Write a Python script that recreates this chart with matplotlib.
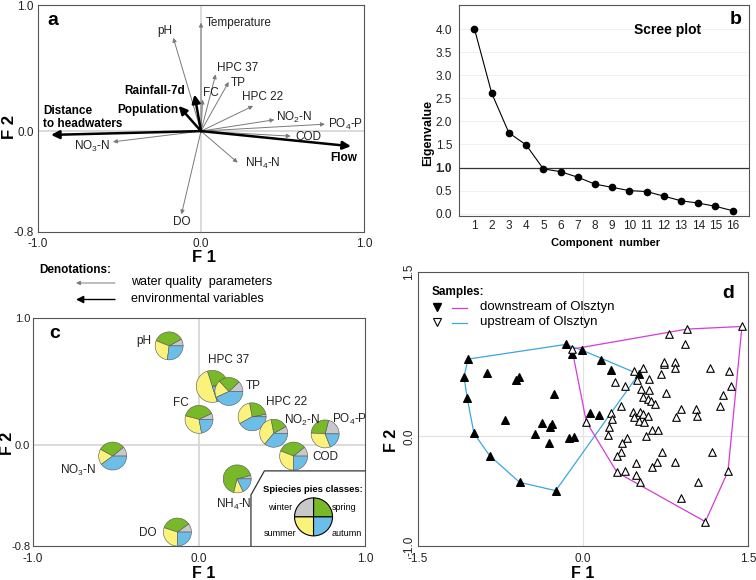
import numpy as np
import matplotlib
matplotlib.use("Agg")
import matplotlib.pyplot as plt
from matplotlib.patches import Wedge, FancyArrowPatch
from matplotlib.transforms import ScaledTranslation

plt.rcParams['font.family'] = ['Liberation Sans', 'DejaVu Sans']
plt.rcParams['mathtext.default'] = 'regular'

# DATA

# panel a - PCA loadings (water quality parameters, thin arrows)
wq_names = ['Temperature', 'pH', 'HPC 37', 'TP', 'FC', 'HPC 22', r'NO$_2$-N', r'PO$_4$-P',
            'COD', r'NO$_3$-N', r'NH$_4$-N', 'DO']
wq_f1 = [0.0, -0.17, 0.09, 0.17, 0.01, 0.32, 0.45, 0.76, 0.55, -0.54, 0.225, -0.12]
wq_f2 = [0.86, 0.74, 0.45, 0.39, 0.25, 0.20, 0.09, 0.055, -0.04, -0.085, -0.25, -0.66]

# environmental variables, thick arrows
env_names = ['Rainfall-7d', 'Population', 'Distance\nto headwaters', 'Flow']
env_f1 = [-0.04, -0.137, -0.92, 0.92]
env_f2 = [0.29, 0.20, -0.03, -0.12]

# panel b - scree plot
eigenvalues = [4.0, 2.61, 1.75, 1.49, 0.97, 0.91, 0.79, 0.64, 0.57, 0.50, 0.48, 0.38, 0.28, 0.23, 0.16, 0.065]

# panel c - seasonal pies
pie_names = ['pH', 'HPC 37', 'TP', 'FC', 'HPC 22', r'NO$_2$-N', r'PO$_4$-P', 'COD',
             r'NO$_3$-N', r'NH$_4$-N', 'DO']
pie_f1 = [-0.18, 0.08, 0.18, 0.0, 0.32, 0.45, 0.76, 0.57, -0.52, 0.23, -0.13]
pie_f2 = [0.78, 0.46, 0.42, 0.20, 0.22, 0.09, 0.085, -0.09, -0.09, -0.27, -0.69]
winter = [0.08, 0.05, 0.12, 0.07, 0.03, 0.08, 0.21, 0.11, 0.11, 0.04, 0.10]
spring = [0.36, 0.25, 0.25, 0.39, 0.25, 0.20, 0.28, 0.33, 0.31, 0.67, 0.35]
summer = [0.29, 0.50, 0.20, 0.32, 0.30, 0.36, 0.32, 0.31, 0.18, 0.11, 0.30]
autumn = [0.27, 0.20, 0.43, 0.22, 0.42, 0.36, 0.19, 0.25, 0.40, 0.18, 0.25]

# panel d - sample scores
down_f1 = [-1.045, -1.082, -1.052, -0.991, -0.848, -0.576, -0.248, -0.158, -0.009, -0.100,
           0.167, 0.258, 0.506, -0.873, -0.606, -0.582, -0.267, -0.709, -0.376, -0.285,
           -0.303, -0.436, -0.312, -0.130, -0.085, 0.067, 0.142]
down_f2 = [0.705, 0.544, 0.347, 0.027, -0.176, -0.419, -0.495, 0.839, 0.787, 0.751,
           0.699, 0.602, 0.568, 0.574, 0.517, 0.544, 0.386, 0.149, 0.125, 0.112,
           0.088, 0.021, -0.061, -0.015, -0.009, 0.210, 0.195]
up_f1 = [1.445, 0.945, 0.779, 0.930, -0.100, 0.733, 0.839, 0.833, 1.158, 1.327,
         0.706, 1.342, 0.758, 1.273, 1.242, 0.461, 0.545, 0.491, 0.600, 0.288,
         0.379, 0.530, 0.600, 0.545, 0.591, 0.621, 0.652, 0.348, 0.888, 1.030,
         0.848, 1.039, 0.252, 0.455, 0.461, 0.521, 0.545, 0.594, 0.030, 0.264,
         0.509, 0.555, 0.236, 0.630, 0.682, 0.224, 0.400, 0.576, 0.355, 0.348,
         0.718, 1.173, 0.309, 0.479, 0.676, 0.833, 0.627, 0.309, 0.385, 1.318,
         0.479, 0.515, 1.045, 0.894, 1.112, 0.733]
up_f2 = [1.003, 0.979, 0.933, 0.842, 0.796, 0.660, 0.681, 0.620, 0.623, 0.593,
         0.568, 0.462, 0.395, 0.377, 0.274, 0.599, 0.620, 0.517, 0.523, 0.498,
         0.462, 0.432, 0.426, 0.356, 0.340, 0.319, 0.295, 0.280, 0.249, 0.249,
         0.179, 0.182, 0.213, 0.225, 0.173, 0.219, 0.207, 0.182, 0.134, 0.158,
         0.137, 0.128, 0.082, 0.058, 0.058, 0.012, -0.015, 0.000, -0.061, -0.146,
         -0.146, -0.140, -0.176, -0.243, -0.237, -0.237, -0.283, -0.328, -0.319, -0.319,
         -0.353, -0.419, -0.413, -0.565, -0.778, 0.675]

# LAYOUT / STYLE
wq_label_pos = [(0.03, 0.86, 'left'), (-0.22, 0.79, 'center'), (0.10, 0.50, 'left'),
                (0.18, 0.38, 'left'), (0.01, 0.30, 'left'), (0.25, 0.27, 'left'),
                (0.46, 0.11, 'left'), (0.78, 0.05, 'left'), (0.58, -0.045, 'left'),
                (-0.67, -0.12, 'center'), (0.27, -0.26, 'left'), (-0.12, -0.72, 'center')]
env_label_pos = [(-0.10, 0.32, 'right'), (-0.14, 0.17, 'right'), (-0.97, 0.11, 'left'),
                 (0.96, -0.21, 'right')]
pie_label_pos = [(-0.33, 0.82), (0.18, 0.67), (0.33, 0.46), (-0.11, 0.33), (0.53, 0.34),
                 (0.62, 0.19), (0.91, 0.20), (0.76, -0.10), (-0.73, -0.20), (0.21, -0.47),
                 (-0.31, -0.70)]
pie_radius = [0.14, 0.16, 0.14, 0.14, 0.14, 0.14, 0.14, 0.14, 0.14, 0.14, 0.14]  # inches
key_box = [(0.313, -0.8), (0.313, -0.397), (0.394, -0.207), (1.0, -0.207)]

c_winter, c_spring, c_summer, c_autumn = '#c8c8c8', '#79b829', '#fbf27b', '#6dbde9'
spine_col = '#555555'
W, H = 756, 580

fig = plt.figure(figsize=(7.56, 5.80), dpi=100)


def box(l, t, r, b):
    return [l / W, 1 - b / H, (r - l) / W, (b - t) / H]


def style_box(ax):
    for s in ax.spines.values():
        s.set_color(spine_col)
        s.set_linewidth(0.8)
    ax.tick_params(length=0, labelsize=8.5, colors='#222222')


def convex_hull(xs, ys):
    pts = sorted(set(zip(xs, ys)))

    def cross(o, a, b):
        return (a[0] - o[0]) * (b[1] - o[1]) - (a[1] - o[1]) * (b[0] - o[0])

    lower, upper = [], []
    for p in pts:
        while len(lower) >= 2 and cross(lower[-2], lower[-1], p) <= 0:
            lower.pop()
        lower.append(p)
    for p in reversed(pts):
        while len(upper) >= 2 and cross(upper[-2], upper[-1], p) <= 0:
            upper.pop()
        upper.append(p)
    hull = lower[:-1] + upper[:-1]
    hull.append(hull[0])
    return [p[0] for p in hull], [p[1] for p in hull]


def draw_pie(ax, x, y, fracs, colors, r, ec='#555555', lw=0.4, z=3):
    trans = fig.dpi_scale_trans + ScaledTranslation(x, y, ax.transData)
    t = 0.0
    total = sum(fracs)
    for f, c in zip(fracs, colors):
        t2 = t + 360.0 * f / total
        ax.add_patch(Wedge((0, 0), r, t, t2, transform=trans, fc=c, ec=ec, lw=lw, zorder=z))
        t = t2


# PANEL A
ax_a = fig.add_axes(box(38, 5, 364, 232))
style_box(ax_a)
ax_a.set_xlim(-1, 1)
ax_a.set_ylim(-0.8, 1.0)
ax_a.axhline(0, color='#d4d4d4', lw=1.2, zorder=0)
ax_a.axvline(0, color='#d4d4d4', lw=1.2, zorder=0)
ax_a.set_xticks([-1, 0, 1], ['-1.0', '0.0', '1.0'])
ax_a.set_yticks([-0.8, 0, 1.0], ['-0.8', '0.0', '1.0'])
ax_a.tick_params(axis='x', pad=4)
ax_a.tick_params(axis='y', pad=3)

for x, y in zip(wq_f1, wq_f2):
    ax_a.annotate('', xy=(x, y), xytext=(0, 0),
                  arrowprops=dict(arrowstyle='-|>', color='#7a7a7a', lw=0.7,
                                  mutation_scale=6, shrinkA=0, shrinkB=0))
for x, y in zip(env_f1, env_f2):
    ax_a.annotate('', xy=(x, y), xytext=(0, 0),
                  arrowprops=dict(arrowstyle='-|>', color='black', lw=1.8,
                                  mutation_scale=12, shrinkA=0, shrinkB=0))
for name, (x, y, ha) in zip(wq_names, wq_label_pos):
    ax_a.text(x, y, name, ha=ha, va='center', fontsize=8.5, color='#222222')
for name, (x, y, ha) in zip(env_names, env_label_pos):
    ax_a.text(x, y, name, ha=ha, va='center', fontsize=8.5, fontweight='bold',
              linespacing=1.15)
ax_a.text(0.03, 0.93, 'a', transform=ax_a.transAxes, fontsize=14, fontweight='bold',
          va='center')

fig.text(204 / W, 1 - 258 / H, 'F 1', ha='center', va='center', fontsize=12, fontweight='bold')
fig.text(9 / W, 1 - 127 / H, 'F 2', ha='center', va='center', fontsize=12, fontweight='bold',
         rotation=90)

# Denotations key
fig.text(39 / W, 1 - 270 / H, 'Denotations:', fontsize=8.5, fontweight='bold', va='center')
fig.add_artist(FancyArrowPatch((115 / W, 1 - 283 / H), (76 / W, 1 - 283 / H),
                               transform=fig.transFigure, arrowstyle='-|>', color='#7a7a7a',
                               lw=0.7, mutation_scale=6, shrinkA=0, shrinkB=0))
fig.add_artist(FancyArrowPatch((115 / W, 1 - 299.5 / H), (76 / W, 1 - 299.5 / H),
                               transform=fig.transFigure, arrowstyle='-|>', color='black',
                               lw=1.0, mutation_scale=11, shrinkA=0, shrinkB=0))
fig.text(131 / W, 1 - 282 / H, 'water quality  parameters', fontsize=9, va='center')
fig.text(131 / W, 1 - 299 / H, 'environmental variables', fontsize=9, va='center')

# PANEL B
ax_b = fig.add_axes(box(459, 5, 749, 216))
style_box(ax_b)
comp = np.arange(1, len(eigenvalues) + 1)
ax_b.set_xlim(0.1, 16.95)
ax_b.set_ylim(-0.05, 4.52)
yt = np.arange(0, 4.01, 0.5)
ax_b.set_yticks(yt, ['%.1f' % v for v in yt])
for lab, v in zip(ax_b.get_yticklabels(), yt):
    if abs(v - 1.0) < 1e-9:
        lab.set_fontweight('bold')
ax_b.set_xticks(comp, [str(c) for c in comp])
ax_b.yaxis.grid(True, color='#eeeeee', lw=0.6)
ax_b.set_axisbelow(True)
ax_b.tick_params(axis='x', pad=3)
ax_b.tick_params(axis='y', pad=5)
ax_b.axhline(1.0, color='#333333', lw=0.9)
ax_b.plot(comp, eigenvalues, '-o', color='black', lw=0.8, ms=4.5)
ax_b.text(0.72, 0.88, 'Scree plot', transform=ax_b.transAxes, ha='center', va='center',
          fontsize=10, fontweight='bold')
ax_b.text(0.955, 0.93, 'b', transform=ax_b.transAxes, ha='center', va='center',
          fontsize=14, fontweight='bold')
fig.text(428 / W, 1 - 133 / H, 'Eigenvalue', rotation=90, ha='center', va='center',
         fontsize=9, fontweight='bold')
fig.text(606 / W, 1 - 243 / H, 'Component  number', ha='center', va='center',
         fontsize=8, fontweight='bold')

# PANEL C
ax_c = fig.add_axes(box(33, 318, 365, 546))
style_box(ax_c)
ax_c.set_xlim(-1, 1)
ax_c.set_ylim(-0.8, 1.0)
ax_c.axhline(0, color='#d4d4d4', lw=1.2, zorder=0)
ax_c.axvline(0, color='#d4d4d4', lw=1.2, zorder=0)
ax_c.set_xticks([-1, 0, 1], ['-1.0', '0.0', '1.0'])
ax_c.set_yticks([-0.8, 0, 1.0], ['-0.8', '0.0', '1.0'])
ax_c.tick_params(axis='x', pad=5)
ax_c.tick_params(axis='y', pad=2, labelsize=8)

season_cols = [c_winter, c_spring, c_summer, c_autumn]
for i in range(len(pie_names)):
    draw_pie(ax_c, pie_f1[i], pie_f2[i], [winter[i], spring[i], summer[i], autumn[i]],
             season_cols, pie_radius[i])
for name, (x, y) in zip(pie_names, pie_label_pos):
    ax_c.text(x, y, name, ha='center', va='center', fontsize=8.5, color='#222222')

# key for pies
ax_c.plot([p[0] for p in key_box], [p[1] for p in key_box], color='#333333', lw=0.9,
          clip_on=False, zorder=4)
draw_pie(ax_c, 0.69, -0.57, [0.25, 0.25, 0.25, 0.25],
         [c_spring, c_winter, c_summer, c_autumn], 0.19, ec='black', lw=0.8, z=5)
ax_c.text(0.687, -0.35, 'Spiecies pies classes:', ha='center', va='center', fontsize=6.8,
          fontweight='bold')
ax_c.text(0.56, -0.50, 'winter', ha='right', va='center', fontsize=6.5)
ax_c.text(0.80, -0.50, 'spring', ha='left', va='center', fontsize=6.5)
ax_c.text(0.586, -0.70, 'summer', ha='right', va='center', fontsize=6.5)
ax_c.text(0.80, -0.70, 'autumn', ha='left', va='center', fontsize=6.5)
ax_c.text(0.05, 0.93, 'c', transform=ax_c.transAxes, fontsize=14, fontweight='bold',
          va='center')

fig.text(204 / W, 1 - 574 / H, 'F 1', ha='center', va='center', fontsize=11.5,
         fontweight='bold')
fig.text(8 / W, 1 - 443 / H, 'F 2', ha='center', va='center', fontsize=11.5,
         fontweight='bold', rotation=90)

# PANEL D
ax_d = fig.add_axes(box(418, 272, 748, 546))
style_box(ax_d)
ax_d.set_xlim(-1.5, 1.5)
ax_d.set_ylim(-1.0, 1.5)
ax_d.axhline(0, color='#e2e2e2', lw=0.8, zorder=0)
ax_d.axvline(0, color='#e2e2e2', lw=0.8, zorder=0)
ax_d.set_xticks([-1.5, 0, 1.5], ['-1.5', '0.0', '1.5'])
ax_d.set_yticks([-1.0, 0, 1.5], ['-1.0', '0.0', '1.5'], rotation=90, va='center')
ax_d.tick_params(axis='x', pad=5)
ax_d.tick_params(axis='y', pad=2)

col_blue, col_mag = '#3aa8dc', '#d43cd4'
hx, hy = convex_hull(down_f1, down_f2)
ax_d.plot(hx, hy, color=col_blue, lw=0.9, zorder=2)
hx, hy = convex_hull(up_f1, up_f2)
ax_d.plot(hx, hy, color=col_mag, lw=0.9, zorder=2)
ax_d.scatter(down_f1, down_f2, marker='^', s=30, color='black', zorder=3)
ax_d.scatter(up_f1, up_f2, marker='^', s=30, facecolor='white', edgecolor='black',
             linewidths=0.8, zorder=3)

# legend
ax_d.text(0.042, 0.928, 'Samples:', transform=ax_d.transAxes, fontsize=8.5,
          fontweight='bold', va='center')
ax_d.plot([0.058], [0.873], marker='v', ms=6, color='black', transform=ax_d.transAxes)
ax_d.plot([0.102, 0.147], [0.869, 0.869], color=col_mag, lw=0.9, transform=ax_d.transAxes)
ax_d.text(0.188, 0.873, 'downstream of Olsztyn', transform=ax_d.transAxes, fontsize=9.5,
          va='center')
ax_d.plot([0.058], [0.819], marker='v', ms=6, mfc='white', mec='black', mew=0.8,
          transform=ax_d.transAxes)
ax_d.plot([0.102, 0.147], [0.814, 0.814], color=col_blue, lw=0.9, transform=ax_d.transAxes)
ax_d.text(0.188, 0.819, 'upstream of Olsztyn', transform=ax_d.transAxes, fontsize=9.5,
          va='center')
ax_d.text(0.94, 0.92, 'd', transform=ax_d.transAxes, fontsize=14, fontweight='bold',
          ha='center', va='center')

fig.text(583 / W, 1 - 574 / H, 'F 1', ha='center', va='center', fontsize=11.5,
         fontweight='bold')
fig.text(392 / W, 1 - 440 / H, 'F 2', ha='center', va='center', fontsize=11.5,
         fontweight='bold', rotation=90)

fig.savefig('out.png', dpi=100)
